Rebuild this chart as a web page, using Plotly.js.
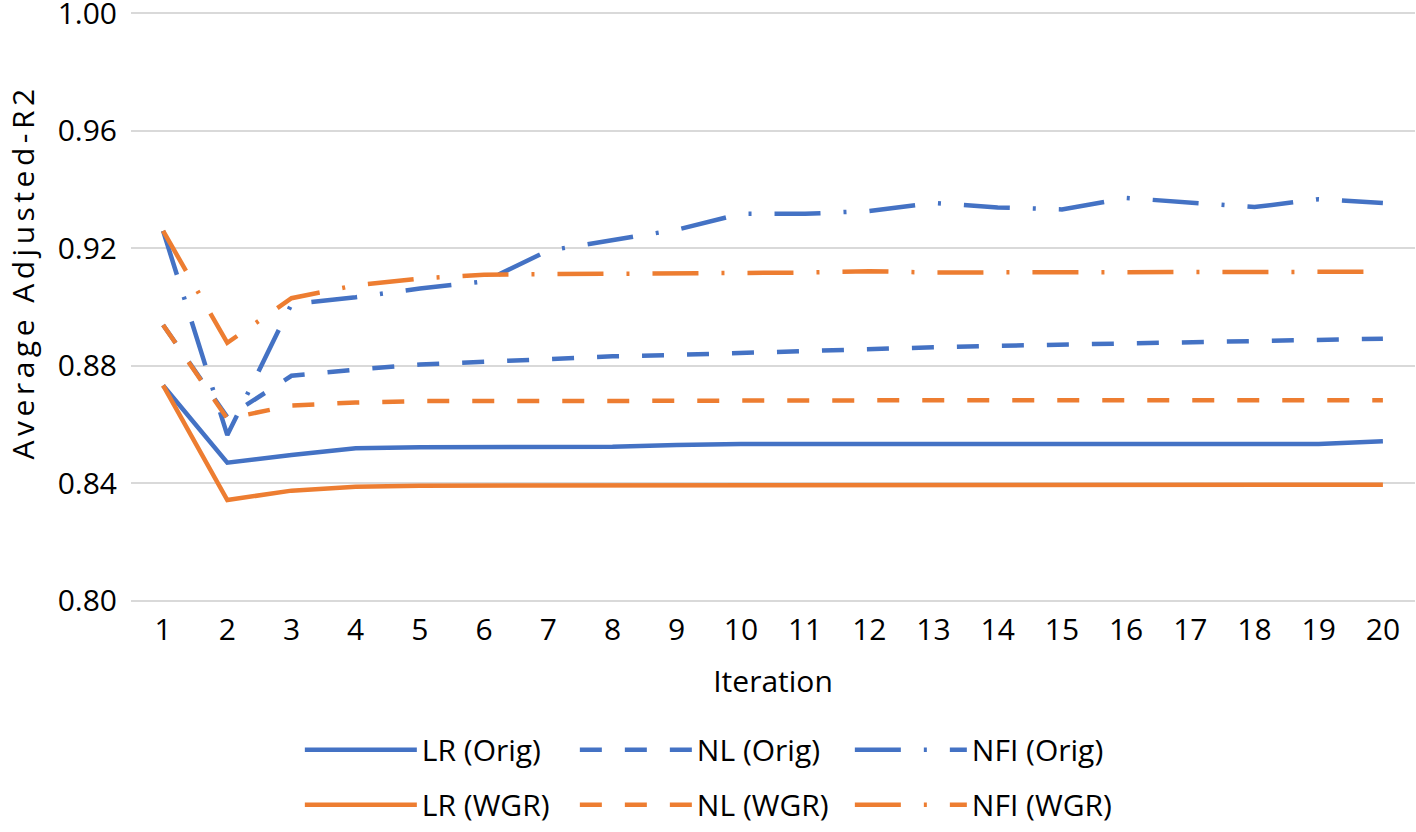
<!DOCTYPE html>
<html>
<head>
<meta charset="utf-8">
<script src="https://cdn.plot.ly/plotly-3.0.1.min.js"></script>
<style>
  html, body { margin: 0; padding: 0; background: #ffffff; }
  #chart { width: 1416px; height: 832px; }
  .annotation-text { letter-spacing: 4.5px; }
</style>
</head>
<body>
<div id="chart"></div>
<script>
const iterations = ["1","2","3","4","5","6","7","8","9","10","11","12","13","14","15","16","17","18","19","20"];

const lrOrig  = [0.8733, 0.8470, 0.8496, 0.8519, 0.8523, 0.8523, 0.8524, 0.8524, 0.8530, 0.8534, 0.8534, 0.8534, 0.8534, 0.8534, 0.8534, 0.8534, 0.8534, 0.8534, 0.8534, 0.8543];
const nlOrig  = [0.8939, 0.8625, 0.8766, 0.8787, 0.8804, 0.8814, 0.8824, 0.8832, 0.8837, 0.8844, 0.8851, 0.8856, 0.8863, 0.8868, 0.8872, 0.8876, 0.8881, 0.8884, 0.8889, 0.8892];
const nfiOrig = [0.9259, 0.8564, 0.9010, 0.9033, 0.9063, 0.9087, 0.9192, 0.9229, 0.9263, 0.9317, 0.9317, 0.9327, 0.9354, 0.9339, 0.9332, 0.9371, 0.9357, 0.9340, 0.9367, 0.9354];
const lrWgr   = [0.8733, 0.8343, 0.8375, 0.8388, 0.8392, 0.8392, 0.8392, 0.8392, 0.8392, 0.8395, 0.8395, 0.8395, 0.8395, 0.8395, 0.8395, 0.8395, 0.8395, 0.8395, 0.8395, 0.8395];
const nlWgr   = [0.8939, 0.8620, 0.8665, 0.8675, 0.8680, 0.8679, 0.8680, 0.8680, 0.8681, 0.8682, 0.8681, 0.8682, 0.8683, 0.8683, 0.8683, 0.8683, 0.8683, 0.8683, 0.8683, 0.8683];
const nfiWgr  = [0.9259, 0.8878, 0.9030, 0.9074, 0.9097, 0.9110, 0.9112, 0.9113, 0.9114, 0.9115, 0.9117, 0.9122, 0.9117, 0.9118, 0.9118, 0.9120, 0.9120, 0.9120, 0.9120, 0.9120];

const seriesNames = ["LR (Orig)", "NL (Orig)", "NFI (Orig)", "LR (WGR)", "NL (WGR)", "NFI (WGR)"];
const yTickVals = [0.80, 0.84, 0.88, 0.92, 0.96, 1.00];
const yTickText = ["0.80", "0.84", "0.88", "0.92", "0.96", "1.00"];
const xTitle = "Iteration";
const yTitle = "Average Adjusted-R2";

const BLUE = "#4472C4";
const ORANGE = "#ED7D31";
const FONT = "Open Sans, Lato, sans-serif";
const FS = 30;
const DASH = "22px,23px";
const DASHDOT = "46px,23px,3px,23px";
const LW = 4.5;

function tr(name, y, color, dash, legend) {
  return {
    type: "scatter", mode: "lines", name: name,
    x: iterations, y: y,
    line: { color: color, width: LW, dash: dash },
    legend: legend,
    hoverinfo: "x+y+name"
  };
}

const data = [
  tr(seriesNames[0], lrOrig,  BLUE,   "solid",  "legend"),
  tr(seriesNames[1], nlOrig,  BLUE,   DASH,     "legend"),
  tr(seriesNames[2], nfiOrig, BLUE,   DASHDOT,  "legend"),
  tr(seriesNames[3], lrWgr,   ORANGE, "solid",  "legend2"),
  tr(seriesNames[4], nlWgr,   ORANGE, DASH,     "legend2"),
  tr(seriesNames[5], nfiWgr,  ORANGE, DASHDOT,  "legend2")
];

const legendCommon = {
  orientation: "h",
  xanchor: "left",
  yanchor: "middle",
  x: 0.1315,
  itemwidth: 112,
  entrywidth: 148,
  entrywidthmode: "pixels",
  font: { family: FONT, size: FS, color: "#000000" },
  bgcolor: "rgba(0,0,0,0)",
  borderwidth: 0
};

const layout = {
  width: 1416,
  height: 832,
  paper_bgcolor: "#ffffff",
  plot_bgcolor: "#ffffff",
  margin: { l: 131, r: 1, t: 12, b: 225, pad: 0 },
  font: { family: FONT, size: FS, color: "#000000" },
  showlegend: true,
  xaxis: {
    type: "category",
    range: [-0.5, 19.5],
    showgrid: false,
    zeroline: false,
    showline: false,
    ticks: "",
    ticklabelstandoff: 7,
    tickfont: { family: FONT, size: FS, color: "#000000" },
    title: { text: xTitle, font: { family: FONT, size: FS, color: "#000000" }, standoff: 22 },
    fixedrange: true
  },
  yaxis: {
    range: [0.7996, 1.0004],
    tickmode: "array",
    tickvals: yTickVals,
    ticktext: yTickText,
    ticklabeloverflow: "allow",
    showgrid: true,
    gridcolor: "#d9d9d9",
    gridwidth: 2,
    zeroline: false,
    showline: false,
    ticks: "",
    ticklabelstandoff: 13,
    tickfont: { family: FONT, size: FS, color: "#000000" },
    fixedrange: true
  },
  annotations: [{
    text: yTitle,
    xref: "paper", yref: "paper",
    x: -0.1018, y: 0.56,
    xanchor: "left", yanchor: "middle",
    textangle: -90,
    showarrow: false,
    font: { family: FONT, size: 30, color: "#000000" }
  }],
  legend: Object.assign({}, legendCommon, { y: -0.2504 }),
  legend2: Object.assign({}, legendCommon, { y: -0.3435 })
};

Plotly.newPlot("chart", data, layout, { displayModeBar: false, staticPlot: true });
</script>
</body>
</html>
